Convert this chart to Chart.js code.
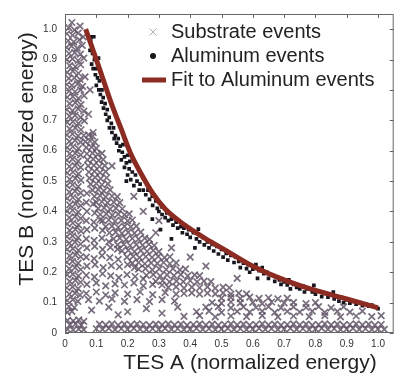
<!DOCTYPE html>
<html>
<head>
<meta charset="utf-8">
<script src="https://cdn.jsdelivr.net/npm/chart.js@4.4.1/dist/chart.umd.min.js"></script>
<style>
  html, body { margin: 0; padding: 0; background: #fff; }
  canvas { display: block; }
</style>
</head>
<body>
<canvas id="canvas" width="400" height="376"></canvas>
<script>
// tick values (both axes)
const xTicks = [0, 0.1, 0.2, 0.3, 0.4, 0.5, 0.6, 0.7, 0.8, 0.9, 1];
const yTicks = [0, 0.1, 0.2, 0.3, 0.4, 0.5, 0.6, 0.7, 0.8, 0.9, 1];

const substrateColumn = [
  [0.012, 1.005], [0.03, 0.998], [0.048, 1.01], [0.022, 1.022],
  [0.006, 0.985], [0.024, 0.98], [0.042, 0.987], [0.058, 0.975],
  [0.01, 0.962], [0.028, 0.958], [0.046, 0.965],
  [0.005, 0.94], [0.021, 0.944], [0.039, 0.938], [0.055, 0.947],
  [0.013, 0.92], [0.031, 0.923], [0.049, 0.918],
  [0.006, 0.9], [0.024, 0.902], [0.042, 0.897], [0.06, 0.905],
  [0.015, 0.88], [0.033, 0.877], [0.05, 0.883],
  [0.007, 0.858], [0.025, 0.862], [0.043, 0.855],
  [0.012, 0.838], [0.03, 0.84], [0.048, 0.835], [0.064, 0.843],
  [0.006, 0.818], [0.022, 0.815], [0.04, 0.82], [0.056, 0.812],
  [0.014, 0.797], [0.032, 0.794], [0.05, 0.8],
  [0.007, 0.776], [0.025, 0.778], [0.043, 0.772], [0.061, 0.781],
  [0.015, 0.755], [0.033, 0.758], [0.051, 0.752],
  [0.006, 0.735], [0.024, 0.732], [0.042, 0.738], [0.06, 0.73],
  [0.014, 0.714], [0.032, 0.716], [0.05, 0.71],
  [0.007, 0.693], [0.025, 0.696], [0.043, 0.69], [0.062, 0.698],
  [0.015, 0.672], [0.033, 0.675], [0.051, 0.669],
  [0.006, 0.652], [0.024, 0.655], [0.042, 0.649],
  [0.014, 0.631], [0.032, 0.634], [0.05, 0.628],
  [0.007, 0.61], [0.025, 0.613], [0.043, 0.607],
  [0.015, 0.59], [0.033, 0.592], [0.05, 0.586],
  [0.006, 0.569], [0.024, 0.572], [0.042, 0.566],
  [0.014, 0.548], [0.032, 0.551], [0.05, 0.545],
  [0.007, 0.527], [0.025, 0.53], [0.043, 0.524],
  [0.015, 0.506], [0.033, 0.509], [0.051, 0.503],
  [0.006, 0.485], [0.024, 0.488], [0.042, 0.482],
  [0.014, 0.464], [0.032, 0.467], [0.05, 0.461],
  [0.007, 0.443], [0.025, 0.446], [0.043, 0.44],
  [0.015, 0.422], [0.033, 0.425], [0.05, 0.419],
  [0.006, 0.401], [0.024, 0.404], [0.042, 0.398],
  [0.014, 0.38], [0.032, 0.383], [0.05, 0.377],
  [0.007, 0.359], [0.025, 0.362], [0.043, 0.356],
  [0.015, 0.338], [0.033, 0.341], [0.051, 0.335],
  [0.006, 0.317], [0.024, 0.32], [0.042, 0.314],
  [0.014, 0.296], [0.032, 0.299], [0.05, 0.293],
  [0.007, 0.275], [0.025, 0.278], [0.043, 0.272],
  [0.015, 0.254], [0.033, 0.257], [0.05, 0.251],
  [0.006, 0.233], [0.024, 0.236], [0.042, 0.23],
  [0.014, 0.212], [0.032, 0.215], [0.05, 0.209],
  [0.007, 0.191], [0.025, 0.194], [0.043, 0.188],
  [0.015, 0.17], [0.033, 0.173], [0.05, 0.167],
  [0.006, 0.149], [0.024, 0.152], [0.042, 0.146],
  [0.014, 0.128], [0.032, 0.131], [0.048, 0.125],
  [0.007, 0.107], [0.025, 0.11], [0.041, 0.104],
  [0.013, 0.087], [0.03, 0.084],
  [0.007, 0.068], [0.022, 0.071]
];

const substrateArc = [
  [0.06, 0.65], [0.075, 0.652], [0.088, 0.648],
  [0.065, 0.63], [0.08, 0.632], [0.095, 0.628],
  [0.068, 0.61], [0.085, 0.612], [0.1, 0.608],
  [0.07, 0.59], [0.088, 0.592], [0.105, 0.588], [0.118, 0.591],
  [0.072, 0.57], [0.09, 0.572], [0.108, 0.568], [0.122, 0.571],
  [0.074, 0.55], [0.092, 0.552], [0.11, 0.548], [0.127, 0.551],
  [0.076, 0.53], [0.094, 0.532], [0.112, 0.528], [0.13, 0.531],
  [0.078, 0.51], [0.096, 0.512], [0.114, 0.508], [0.133, 0.511],
  [0.082, 0.49], [0.1, 0.492], [0.118, 0.488], [0.137, 0.491],
  [0.088, 0.47], [0.106, 0.472], [0.124, 0.468], [0.144, 0.471],
  [0.094, 0.45], [0.112, 0.452], [0.13, 0.448], [0.15, 0.451], [0.167, 0.449],
  [0.1, 0.43], [0.118, 0.432], [0.136, 0.428], [0.156, 0.431], [0.175, 0.429],
  [0.106, 0.41], [0.125, 0.412], [0.144, 0.408], [0.163, 0.411], [0.183, 0.409],
  [0.113, 0.39], [0.132, 0.392], [0.151, 0.388], [0.17, 0.391], [0.19, 0.389], [0.205, 0.392],
  [0.12, 0.37], [0.14, 0.372], [0.16, 0.368], [0.18, 0.371], [0.2, 0.369], [0.215, 0.372],
  [0.13, 0.35], [0.15, 0.352], [0.17, 0.348], [0.19, 0.351], [0.21, 0.349], [0.228, 0.352],
  [0.142, 0.33], [0.162, 0.332], [0.182, 0.328], [0.202, 0.331], [0.222, 0.329], [0.242, 0.332],
  [0.155, 0.31], [0.175, 0.312], [0.195, 0.308], [0.215, 0.311], [0.235, 0.309], [0.255, 0.312], [0.27, 0.308],
  [0.168, 0.29], [0.188, 0.292], [0.208, 0.288], [0.228, 0.291], [0.248, 0.289], [0.268, 0.292], [0.285, 0.288],
  [0.182, 0.27], [0.202, 0.272], [0.222, 0.268], [0.242, 0.271], [0.262, 0.269], [0.282, 0.272], [0.3, 0.268],
  [0.198, 0.25], [0.218, 0.252], [0.238, 0.248], [0.258, 0.251], [0.278, 0.249], [0.298, 0.252], [0.318, 0.248], [0.335, 0.251],
  [0.215, 0.23], [0.235, 0.232], [0.255, 0.228], [0.275, 0.231], [0.295, 0.229], [0.315, 0.232], [0.335, 0.228], [0.355, 0.231],
  [0.235, 0.21], [0.257, 0.212], [0.279, 0.208], [0.301, 0.211], [0.323, 0.209], [0.345, 0.212], [0.367, 0.208], [0.385, 0.211],
  [0.26, 0.19], [0.282, 0.192], [0.304, 0.188], [0.326, 0.191], [0.348, 0.189], [0.37, 0.192], [0.392, 0.188], [0.414, 0.191], [0.43, 0.189],
  [0.29, 0.17], [0.312, 0.172], [0.334, 0.168], [0.356, 0.171], [0.378, 0.169], [0.4, 0.172], [0.422, 0.168], [0.444, 0.171], [0.466, 0.169],
  [0.33, 0.15], [0.355, 0.152], [0.38, 0.148], [0.405, 0.151], [0.43, 0.149], [0.455, 0.152], [0.48, 0.148], [0.505, 0.151], [0.525, 0.149],
  [0.38, 0.13], [0.405, 0.132], [0.43, 0.128], [0.455, 0.131], [0.48, 0.129], [0.505, 0.132], [0.53, 0.128], [0.555, 0.131], [0.58, 0.129]
];

const substrateInner = [
  [0.07, 0.46],
  [0.068, 0.43], [0.09, 0.425],
  [0.07, 0.4], [0.095, 0.395],
  [0.068, 0.37], [0.092, 0.365], [0.112, 0.372],
  [0.07, 0.34], [0.095, 0.345], [0.12, 0.338],
  [0.068, 0.31], [0.093, 0.305], [0.118, 0.312], [0.14, 0.3],
  [0.07, 0.28], [0.095, 0.285], [0.12, 0.275], [0.145, 0.282], [0.168, 0.276],
  [0.068, 0.25], [0.093, 0.245], [0.118, 0.255], [0.143, 0.248], [0.17, 0.242],
  [0.07, 0.22], [0.096, 0.225], [0.122, 0.215], [0.148, 0.222], [0.174, 0.218], [0.2, 0.225], [0.222, 0.215],
  [0.068, 0.19], [0.094, 0.185], [0.12, 0.195], [0.146, 0.188], [0.172, 0.182], [0.198, 0.192], [0.224, 0.186], [0.25, 0.178],
  [0.07, 0.16], [0.1, 0.165], [0.13, 0.155], [0.16, 0.162], [0.19, 0.158], [0.22, 0.165], [0.25, 0.155], [0.28, 0.16], [0.31, 0.158],
  [0.068, 0.13], [0.1, 0.135], [0.13, 0.125], [0.16, 0.132], [0.2, 0.128], [0.24, 0.135], [0.28, 0.126], [0.32, 0.133], [0.355, 0.128],
  [0.075, 0.11], [0.11, 0.105], [0.15, 0.112], [0.19, 0.104], [0.23, 0.11], [0.27, 0.103], [0.31, 0.11], [0.35, 0.105]
];

const substrateTail = [
  [0.5, 0.115], [0.53, 0.117], [0.56, 0.113], [0.59, 0.118], [0.62, 0.114], [0.65, 0.116], [0.68, 0.112], [0.71, 0.115],
  [0.47, 0.1], [0.5, 0.098], [0.53, 0.102], [0.56, 0.099], [0.6, 0.101], [0.63, 0.097], [0.66, 0.102], [0.7, 0.099], [0.73, 0.101], [0.77, 0.097], [0.8, 0.1],
  [0.45, 0.085], [0.49, 0.087], [0.53, 0.083], [0.57, 0.086], [0.61, 0.084], [0.65, 0.087], [0.69, 0.083], [0.73, 0.086], [0.77, 0.084], [0.81, 0.087], [0.85, 0.083], [0.89, 0.086],
  [0.42, 0.07], [0.46, 0.072], [0.5, 0.068], [0.55, 0.071], [0.59, 0.069], [0.63, 0.072], [0.67, 0.068], [0.71, 0.071], [0.75, 0.069], [0.79, 0.072], [0.83, 0.068], [0.87, 0.071], [0.91, 0.069], [0.95, 0.072],
  [0.38, 0.055], [0.43, 0.057], [0.48, 0.053], [0.53, 0.056], [0.58, 0.054], [0.63, 0.057], [0.68, 0.053], [0.73, 0.056], [0.78, 0.054], [0.83, 0.057], [0.88, 0.053], [0.93, 0.056], [0.98, 0.054], [1.01, 0.057]
];

const substrateFloor = [
  [0.1, 0.014], [0.12, 0.012], [0.14, 0.015], [0.16, 0.011], [0.18, 0.014], [0.2, 0.012], [0.22, 0.015], [0.24, 0.013],
  [0.26, 0.011], [0.28, 0.014], [0.3, 0.012], [0.32, 0.015], [0.34, 0.012], [0.36, 0.014], [0.38, 0.011], [0.4, 0.013],
  [0.42, 0.015], [0.44, 0.012], [0.46, 0.014], [0.48, 0.011], [0.5, 0.013], [0.52, 0.015], [0.54, 0.012], [0.56, 0.014],
  [0.58, 0.011], [0.6, 0.013], [0.62, 0.015], [0.64, 0.012], [0.66, 0.014], [0.68, 0.011], [0.7, 0.013], [0.72, 0.015],
  [0.74, 0.012], [0.76, 0.014], [0.78, 0.011], [0.8, 0.013], [0.82, 0.015], [0.84, 0.012], [0.86, 0.014], [0.88, 0.011],
  [0.9, 0.013], [0.92, 0.015], [0.94, 0.012], [0.96, 0.014], [0.98, 0.011], [1.0, 0.013], [1.02, 0.012],
  [0.11, 0.029], [0.13, 0.027], [0.15, 0.03], [0.17, 0.026], [0.19, 0.029], [0.21, 0.027], [0.23, 0.03], [0.25, 0.028],
  [0.27, 0.026], [0.29, 0.029], [0.31, 0.027], [0.33, 0.03], [0.35, 0.027], [0.37, 0.029], [0.39, 0.026], [0.41, 0.028],
  [0.43, 0.03], [0.45, 0.027], [0.47, 0.029], [0.49, 0.026], [0.51, 0.028], [0.53, 0.03], [0.55, 0.027], [0.57, 0.029],
  [0.59, 0.026], [0.61, 0.028], [0.63, 0.03], [0.65, 0.027], [0.67, 0.029], [0.69, 0.026], [0.71, 0.028], [0.73, 0.03],
  [0.75, 0.027], [0.77, 0.029], [0.79, 0.026], [0.81, 0.028], [0.83, 0.03], [0.85, 0.027], [0.87, 0.029], [0.89, 0.026],
  [0.91, 0.028], [0.93, 0.03], [0.95, 0.027], [0.97, 0.029], [0.99, 0.026], [1.01, 0.028],
  [0.008, 0.012], [0.026, 0.01], [0.044, 0.013], [0.06, 0.011],
  [0.016, 0.027], [0.034, 0.03], [0.052, 0.026],
  [0.008, 0.042], [0.026, 0.04], [0.044, 0.043], [0.06, 0.038]
];

const substrateStray = [
  [0.085, 0.075], [0.14, 0.085], [0.2, 0.07], [0.26, 0.08], [0.31, 0.065], [0.36, 0.085], [0.17, 0.06],
  [0.29, 0.33], [0.34, 0.28], [0.25, 0.4], [0.22, 0.45], [0.3, 0.37], [0.075, 0.72], [0.08, 0.8],
  [0.09, 0.66], [0.15, 0.55], [0.4, 0.25], [0.45, 0.22], [0.55, 0.18]
];

// aluminum events [TES A, TES B]
const aluminumEvents = [
  [0.085, 0.975], [0.092, 0.975], [0.082, 0.965], [0.08, 0.93], [0.088, 0.92], [0.107, 0.905], [0.094, 0.9],
  [0.085, 0.885], [0.09, 0.87], [0.1, 0.87], [0.097, 0.85], [0.104, 0.84], [0.11, 0.83], [0.1, 0.815],
  [0.108, 0.8], [0.118, 0.8], [0.113, 0.785], [0.122, 0.775], [0.117, 0.76], [0.128, 0.755], [0.123, 0.74],
  [0.135, 0.735], [0.13, 0.72], [0.141, 0.71], [0.135, 0.7], [0.148, 0.69], [0.142, 0.675], [0.155, 0.675],
  [0.15, 0.66], [0.161, 0.65], [0.157, 0.64], [0.17, 0.64], [0.165, 0.625], [0.176, 0.615], [0.185, 0.62],
  [0.172, 0.6], [0.183, 0.595], [0.19, 0.58], [0.2, 0.585], [0.18, 0.57], [0.196, 0.56], [0.207, 0.565],
  [0.19, 0.545], [0.205, 0.54], [0.215, 0.53], [0.2, 0.52], [0.225, 0.52], [0.21, 0.505], [0.23, 0.5],
  [0.196, 0.5], [0.24, 0.49], [0.22, 0.485], [0.237, 0.47], [0.25, 0.47],
  [0.258, 0.455], [0.265, 0.47], [0.27, 0.44], [0.279, 0.45], [0.28, 0.42], [0.29, 0.435], [0.295, 0.41],
  [0.279, 0.375], [0.3, 0.4], [0.31, 0.415], [0.31, 0.39], [0.305, 0.34], [0.32, 0.38], [0.325, 0.395],
  [0.33, 0.37], [0.34, 0.31], [0.34, 0.375], [0.345, 0.355], [0.355, 0.365], [0.36, 0.345], [0.37, 0.35],
  [0.375, 0.33], [0.38, 0.345], [0.39, 0.325], [0.395, 0.34], [0.4, 0.315], [0.41, 0.33], [0.415, 0.28],
  [0.42, 0.31], [0.426, 0.342], [0.43, 0.3], [0.44, 0.315], [0.445, 0.29], [0.455, 0.3], [0.46, 0.28],
  [0.47, 0.292], [0.475, 0.27], [0.485, 0.285], [0.49, 0.26], [0.5, 0.275], [0.505, 0.25], [0.515, 0.262],
  [0.52, 0.24], [0.53, 0.255], [0.54, 0.232], [0.545, 0.25], [0.555, 0.236], [0.56, 0.215], [0.57, 0.23],
  [0.58, 0.212], [0.585, 0.225], [0.59, 0.2],
  [0.6, 0.21], [0.61, 0.225], [0.615, 0.18], [0.62, 0.205], [0.63, 0.215], [0.635, 0.195], [0.645, 0.2],
  [0.65, 0.18], [0.66, 0.19], [0.67, 0.17], [0.675, 0.185], [0.685, 0.175], [0.69, 0.16], [0.7, 0.168],
  [0.71, 0.158], [0.715, 0.175], [0.72, 0.145], [0.73, 0.16], [0.74, 0.15], [0.75, 0.145], [0.76, 0.155],
  [0.765, 0.135], [0.775, 0.145], [0.795, 0.157], [0.79, 0.135], [0.8, 0.128], [0.81, 0.138], [0.82, 0.12],
  [0.83, 0.13], [0.84, 0.118], [0.85, 0.125], [0.857, 0.135], [0.86, 0.112], [0.875, 0.105], [0.88, 0.118],
  [0.89, 0.1], [0.9, 0.11], [0.91, 0.098], [0.92, 0.104], [0.93, 0.095], [0.94, 0.1], [0.95, 0.09],
  [0.96, 0.095], [0.97, 0.088], [0.98, 0.092], [0.99, 0.085], [1.0, 0.08]
];

// fit to aluminum events
const fitA = [0.066, 0.09, 0.12, 0.15, 0.18, 0.21, 0.24, 0.28, 0.32, 0.38, 0.45, 0.52, 0.6, 0.7, 0.8, 0.9, 1.0];
const fitB = [1.0, 0.93, 0.84, 0.75, 0.67, 0.59, 0.53, 0.46, 0.408, 0.357, 0.31, 0.268, 0.22, 0.175, 0.14, 0.112, 0.083];

const toPoints = (pairs) => pairs.map(([x, y]) => ({ x, y }));

const substrateColor = "rgba(96, 84, 102, 0.85)";
const aluminumColor = "#17151d";
const fitColor = "#8b2b22";
const FONT = '"Liberation Sans", Arial, sans-serif';

const overlay = {
  id: "overlay",
  afterDraw(chart) {
    const { ctx, chartArea: area, scales } = chart;
    ctx.save();

    // box and inward ticks
    ctx.strokeStyle = "#666";
    ctx.lineWidth = 1;
    ctx.strokeRect(area.left + 0.5, area.top + 0.5, area.right - area.left - 1, area.bottom - area.top - 1);
    ctx.beginPath();
    xTicks.forEach((v) => {
      const px = Math.round(scales.x.getPixelForValue(v)) + 0.5;
      ctx.moveTo(px, area.bottom);
      ctx.lineTo(px, area.bottom - 4);
      ctx.moveTo(px, area.top);
      ctx.lineTo(px, area.top + 4);
    });
    yTicks.forEach((v) => {
      const py = Math.round(scales.y.getPixelForValue(v)) + 0.5;
      ctx.moveTo(area.left, py);
      ctx.lineTo(area.left + 4, py);
      ctx.moveTo(area.right, py);
      ctx.lineTo(area.right - 4, py);
    });
    ctx.stroke();

    // legend
    const lx = 153;
    const rows = [32, 56, 80];
    ctx.strokeStyle = "#aaa";
    ctx.beginPath();
    ctx.moveTo(lx - 3.5, rows[0] - 3.5);
    ctx.lineTo(lx + 3.5, rows[0] + 3.5);
    ctx.moveTo(lx + 3.5, rows[0] - 3.5);
    ctx.lineTo(lx - 3.5, rows[0] + 3.5);
    ctx.stroke();
    ctx.fillStyle = aluminumColor;
    ctx.beginPath();
    ctx.arc(lx, rows[1], 3, 0, Math.PI * 2);
    ctx.fill();
    ctx.strokeStyle = fitColor;
    ctx.lineWidth = 5;
    ctx.beginPath();
    ctx.moveTo(lx - 11, rows[2]);
    ctx.lineTo(lx + 13, rows[2]);
    ctx.stroke();

    ctx.fillStyle = "#222";
    ctx.font = "20px " + FONT;
    ctx.textBaseline = "middle";
    ctx.textAlign = "left";
    ctx.fillText("Substrate events", 171, rows[0]);
    ctx.fillText("Aluminum events", 171, rows[1]);
    ctx.fillText("Fit to Aluminum events", 171, rows[2]);

    // axis titles
    ctx.font = "21px " + FONT;
    ctx.textAlign = "center";
    ctx.fillText("TES A (normalized energy)", 250, 363);
    ctx.translate(27, 159);
    ctx.rotate(-Math.PI / 2);
    ctx.fillText("TES B (normalized energy)", 0, 0);
    ctx.restore();
  }
};

const chart = new Chart(document.getElementById("canvas"), {
  type: "scatter",
  data: {
    datasets: [
      {
        type: "line",
        label: "Fit to Aluminum events",
        data: fitA.map((x, i) => ({ x, y: fitB[i] })),
        borderColor: fitColor,
        borderWidth: 5,
        pointRadius: 0,
        showLine: true,
        fill: false,
        cubicInterpolationMode: "monotone",
        order: 0
      },
      {
        label: "Aluminum events",
        data: toPoints(aluminumEvents),
        pointStyle: "rect",
        pointRadius: 2.6,
        pointBorderWidth: 0,
        backgroundColor: aluminumColor,
        borderColor: aluminumColor,
        order: 1
      },
      {
        label: "Substrate events",
        data: toPoints([
          ...substrateColumn,
          ...substrateArc,
          ...substrateInner,
          ...substrateTail,
          ...substrateFloor,
          ...substrateStray
        ]),
        pointStyle: "crossRot",
        pointRadius: 4.6,
        pointBorderWidth: 1.7,
        borderColor: substrateColor,
        backgroundColor: substrateColor,
        order: 2
      }
    ]
  },
  options: {
    responsive: false,
    animation: false,
    events: [],
    layout: { padding: { top: 4, right: 3, left: 0, bottom: 0 } },
    plugins: {
      legend: { display: false },
      tooltip: { enabled: false }
    },
    scales: {
      x: {
        type: "linear",
        min: 0,
        max: 1.05,
        grid: { display: false, drawTicks: false },
        border: { display: false },
        ticks: { padding: 5, color: "#333", font: { size: 10, family: FONT } },
        afterBuildTicks: (scale) => {
          scale.ticks = xTicks.map((v) => ({ value: v }));
        },
        afterFit: (scale) => {
          scale.height = 43;
        }
      },
      y: {
        type: "linear",
        min: 0,
        max: 1.05,
        grid: { display: false, drawTicks: false },
        border: { display: false },
        ticks: { padding: 8, color: "#333", font: { size: 10, family: FONT } },
        afterBuildTicks: (scale) => {
          scale.ticks = yTicks.map((v) => ({ value: v }));
        },
        afterFit: (scale) => {
          scale.width = 65;
        }
      }
    }
  },
  plugins: [overlay]
});
</script>
</body>
</html>
